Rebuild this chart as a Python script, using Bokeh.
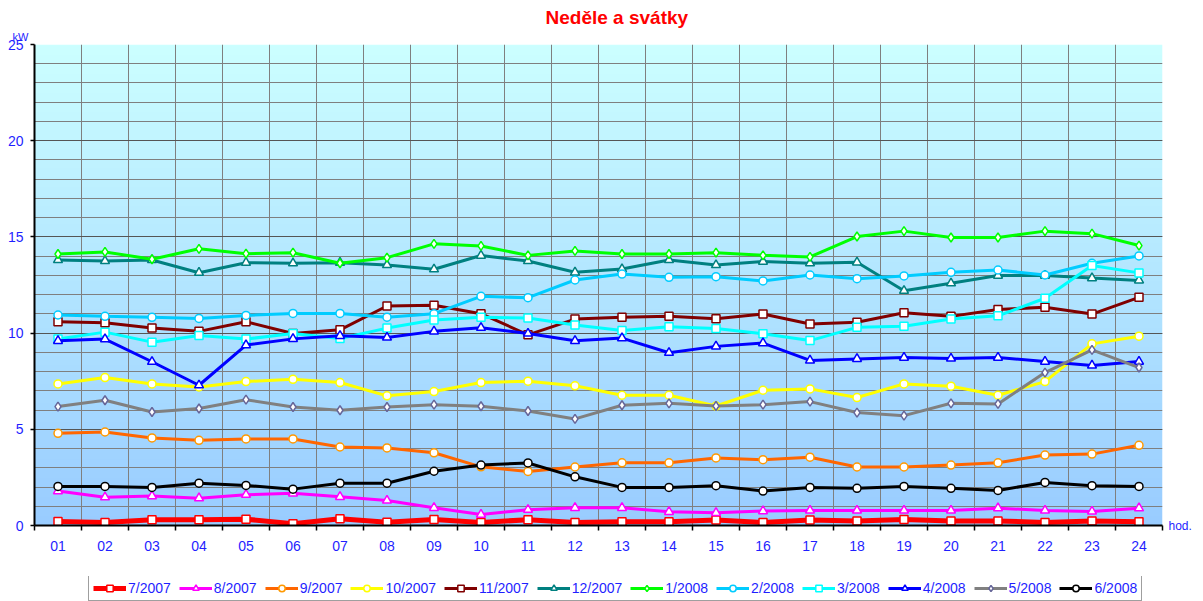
import numpy as np
from bokeh.plotting import figure
from bokeh.layouts import column
from bokeh.models import (Range1d, FixedTicker, CustomJSTickFormatter, Legend, LegendItem,
                          Title, LinearAxis)
from bokeh.embed import file_html
from bokeh.resources import INLINE

hours = ["01", "02", "03", "04", "05", "06", "07", "08", "09", "10", "11", "12",
         "13", "14", "15", "16", "17", "18", "19", "20", "21", "22", "23", "24"]
x_unit = "hod."
y_unit = "kW"
chart_title = "Neděle a svátky"

s_07_2007 = [0.21, 0.16, 0.30, 0.30, 0.33, 0.09, 0.35, 0.17, 0.31, 0.16, 0.30, 0.16,
             0.19, 0.19, 0.28, 0.16, 0.29, 0.23, 0.31, 0.24, 0.24, 0.16, 0.24, 0.20]
s_08_2007 = [1.79, 1.47, 1.53, 1.42, 1.60, 1.67, 1.49, 1.30, 0.92, 0.57, 0.82, 0.92,
             0.92, 0.71, 0.66, 0.75, 0.78, 0.78, 0.78, 0.78, 0.90, 0.78, 0.73, 0.90]
s_09_2007 = [4.79, 4.86, 4.55, 4.43, 4.50, 4.50, 4.08, 4.03, 3.78, 3.05, 2.81, 3.04,
             3.26, 3.26, 3.51, 3.42, 3.55, 3.04, 3.04, 3.14, 3.26, 3.66, 3.71, 4.17]
s_10_2007 = [7.36, 7.69, 7.36, 7.20, 7.48, 7.60, 7.43, 6.74, 6.96, 7.43, 7.50, 7.26,
             6.77, 6.77, 6.21, 7.03, 7.10, 6.65, 7.36, 7.24, 6.77, 7.48, 9.44, 9.84]
s_11_2007 = [10.59, 10.54, 10.26, 10.09, 10.59, 9.98, 10.17, 11.41, 11.45, 11.01, 9.91, 10.73,
             10.83, 10.87, 10.75, 10.99, 10.47, 10.56, 11.06, 10.87, 11.23, 11.34, 10.99, 11.86]
s_12_2007 = [13.80, 13.75, 13.80, 13.14, 13.66, 13.63, 13.66, 13.54, 13.32, 14.03, 13.75, 13.16,
             13.33, 13.80, 13.54, 13.72, 13.63, 13.68, 12.20, 12.59, 12.99, 12.99, 12.86, 12.74]
s_01_2008 = [14.11, 14.22, 13.84, 14.38, 14.13, 14.18, 13.63, 13.92, 14.64, 14.53, 14.04, 14.27,
             14.11, 14.11, 14.18, 14.04, 13.96, 15.02, 15.30, 14.97, 14.97, 15.30, 15.17, 14.55]
s_02_2008 = [10.94, 10.87, 10.82, 10.76, 10.92, 11.02, 11.02, 10.83, 11.01, 11.91, 11.84, 12.76,
             13.07, 12.90, 12.93, 12.71, 13.02, 12.83, 12.97, 13.16, 13.28, 13.02, 13.63, 14.01]
s_03_2008 = [9.69, 10.05, 9.53, 9.88, 9.69, 9.98, 9.72, 10.26, 10.68, 10.83, 10.78, 10.42,
             10.14, 10.33, 10.24, 9.97, 9.61, 10.30, 10.36, 10.73, 10.90, 11.81, 13.51, 13.13]
s_04_2008 = [9.60, 9.69, 8.51, 7.29, 9.38, 9.70, 9.86, 9.77, 10.09, 10.28, 9.98, 9.60,
             9.74, 8.98, 9.31, 9.48, 8.58, 8.66, 8.73, 8.68, 8.73, 8.52, 8.32, 8.52]
s_05_2008 = [6.18, 6.51, 5.90, 6.08, 6.54, 6.16, 5.99, 6.16, 6.28, 6.20, 5.95, 5.54,
             6.25, 6.35, 6.21, 6.28, 6.44, 5.87, 5.71, 6.35, 6.32, 7.95, 9.13, 8.21]
s_06_2008 = [2.03, 2.03, 1.98, 2.20, 2.08, 1.89, 2.20, 2.20, 2.82, 3.14, 3.25, 2.53,
             1.98, 1.98, 2.07, 1.79, 1.98, 1.93, 2.03, 1.93, 1.82, 2.24, 2.07, 2.03]

series_names = ["7/2007", "8/2007", "9/2007", "10/2007", "11/2007", "12/2007",
                "1/2008", "2/2008", "3/2008", "4/2008", "5/2008", "6/2008"]
series_values = [s_07_2007, s_08_2007, s_09_2007, s_10_2007, s_11_2007, s_12_2007,
                 s_01_2008, s_02_2008, s_03_2008, s_04_2008, s_05_2008, s_06_2008]
line_colors = ["#ff0000", "#ff00ff", "#ff6600", "#ffff00", "#800000", "#008080",
               "#00ff00", "#00ccff", "#00ffff", "#0000ff", "#808080", "#000000"]
marker_types = ["square", "triangle", "circle", "circle", "square", "triangle",
                "diamond", "circle", "square", "triangle", "diamond", "circle"]
marker_lines = ["#ff0000", "#ff00ff", "#ff9900", "#ffff00", "#800000", "#008080",
                "#00ff00", "#00ccff", "#00ffff", "#0000ff", "#666699", "#000000"]
line_widths = [5, 3, 3, 3, 3, 3, 3, 3, 3, 3, 3, 3]
marker_sizes = {"square": 8, "triangle": 9, "circle": 8, "diamond": 9}

y_max = 25
y_major = [0, 5, 10, 15, 20, 25]
TXT = "#1f1fff"
FONT = "Liberation Sans"
GRID = "#7f7f7f"

n = len(hours)
xs = [i + 0.5 for i in range(n)]

p = figure(frame_width=1128, frame_height=481,
           x_range=Range1d(0, n), y_range=Range1d(0, y_max),
           output_backend="svg", toolbar_location=None,
           min_border_left=34, min_border_right=10, min_border_top=44, min_border_bottom=33)
p.background_fill_color = "white"
p.border_fill_color = "white"
p.outline_line_color = None

# titles
p.title.text = chart_title
p.title.align = "left"
p.title.offset = 511
p.title.standoff = 0
p.title.text_color = "#ff0000"
p.title.text_font = FONT
p.title.text_font_size = "19px"
p.title.text_font_style = "bold"

p.add_layout(Title(text=y_unit, align="left", offset=-22, standoff=3,
                   text_color=TXT, text_font=FONT, text_font_size="11px",
                   text_font_style="normal"), "above")

# gradient background
rows = 256
t = np.linspace(0, 1, rows)
img = np.empty((rows, 1), dtype=np.uint32)
v = img.view(dtype=np.uint8).reshape((rows, 1, 4))
v[:, 0, 0] = (153 + 51 * t).astype(np.uint8)
v[:, 0, 1] = (204 + 51 * t).astype(np.uint8)
v[:, 0, 2] = 255
v[:, 0, 3] = 255
p.image_rgba(image=[img], x=0, y=0, dw=n, dh=y_max, level="image")

# axes
xt = FixedTicker(ticks=xs, minor_ticks=list(range(n + 1)))
p.xaxis.ticker = xt
p.xaxis.formatter = CustomJSTickFormatter(args=dict(labels=hours),
                                          code="return labels[Math.floor(tick)];")
p.xaxis.major_tick_out = 0
p.xaxis.major_tick_in = 0
p.xaxis.minor_tick_out = 5
p.xaxis.minor_tick_in = 0
p.xaxis.minor_tick_line_color = "black"
p.xaxis.minor_tick_line_width = 1.5
p.xaxis.axis_line_color = "black"
p.xaxis.axis_line_width = 2
p.xaxis.major_label_text_color = TXT
p.xaxis.major_label_text_font = FONT
p.xaxis.major_label_text_font_size = "14px"
p.xaxis.major_label_standoff = 10

yt = FixedTicker(ticks=y_major, minor_ticks=list(range(y_max + 1)))
p.yaxis.ticker = yt
p.yaxis.major_tick_out = 4
p.yaxis.major_tick_in = 0
p.yaxis.minor_tick_out = 0
p.yaxis.minor_tick_in = 0
p.yaxis.major_tick_line_color = "black"
p.yaxis.major_tick_line_width = 1.5
p.yaxis.axis_line_color = "black"
p.yaxis.axis_line_width = 2
p.yaxis.major_label_text_color = TXT
p.yaxis.major_label_text_font = FONT
p.yaxis.major_label_text_font_size = "14px"
p.yaxis.major_label_standoff = 7

# unit label of the hour axis, at the right end of the x axis
p.extra_y_ranges = {"unit": Range1d(0, 1)}
unit_axis = LinearAxis(y_range_name="unit", ticker=FixedTicker(ticks=[0]),
                       formatter=CustomJSTickFormatter(args=dict(lbl=x_unit), code="return lbl;"),
                       axis_line_color=None, major_tick_line_color=None,
                       minor_tick_line_color=None, major_tick_out=0, major_tick_in=0,
                       minor_tick_out=0, minor_tick_in=0, major_label_standoff=6,
                       major_label_text_color=TXT, major_label_text_font=FONT,
                       major_label_text_font_size="12px")
p.add_layout(unit_axis, "right")

p.xgrid.ticker = FixedTicker(ticks=list(range(n + 1)))
p.xgrid.grid_line_color = GRID
p.xgrid.grid_line_width = 1
p.ygrid.ticker = yt
p.ygrid.grid_line_color = "#555555"
p.ygrid.grid_line_width = 1
p.ygrid.minor_grid_line_color = GRID
p.ygrid.minor_grid_line_width = 1

for vals, lc, mt, ml, lw in zip(series_values, line_colors, marker_types, marker_lines, line_widths):
    p.line(xs, vals, line_color=lc, line_width=lw)
    p.scatter(xs, vals, marker=mt, size=marker_sizes[mt], fill_color="white",
              line_color=ml, line_width=1.5)

# legend strip below the chart (its glyphs lie outside its own visible range)
lg = figure(frame_width=1128, frame_height=25, x_range=Range1d(0, 1), y_range=Range1d(-101, -100),
            output_backend="svg", toolbar_location=None,
            x_axis_location=None, y_axis_location=None,
            min_border_left=34, min_border_right=10, min_border_top=18, min_border_bottom=0)
lg.grid.visible = False
lg.outline_line_color = None
lg.background_fill_color = "white"
lg.border_fill_color = "white"

items = []
for name, vals, lc, mt, ml, lw in zip(series_names, series_values, line_colors,
                                       marker_types, marker_lines, line_widths):
    r1 = lg.line(xs, vals, line_color=lc, line_width=lw)
    r2 = lg.scatter(xs, vals, marker=mt, size=marker_sizes[mt], fill_color="white",
                    line_color=ml, line_width=1.5)
    items.append(LegendItem(label=name, renderers=[r1, r2]))

legend = Legend(items=items, orientation="horizontal", location=(54, 0),
                glyph_width=33, glyph_height=16, label_standoff=2, spacing=8,
                padding=4, margin=0, label_height=16,
                label_text_color=TXT, label_text_font=FONT, label_text_font_size="14px",
                border_line_color="#404040", border_line_width=1,
                background_fill_color="white", background_fill_alpha=1)
lg.add_layout(legend)

layout = column(p, lg, spacing=0)
open("out.html", "w").write(file_html(layout, INLINE))
